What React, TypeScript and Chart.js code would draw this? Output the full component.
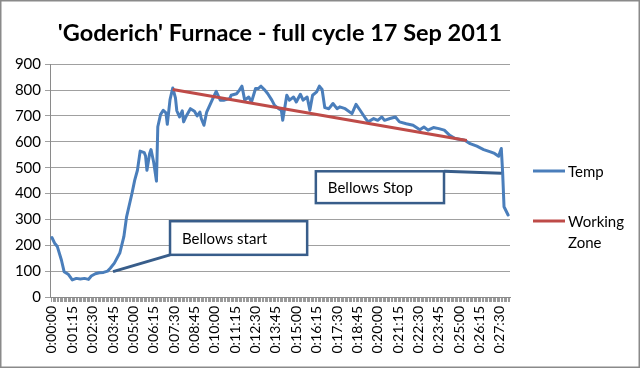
import React, { useEffect, useRef } from 'react';
import { Chart, registerables } from 'chart.js';

Chart.register(...registerables);

// Elapsed time in seconds and furnace temperature
const times = [
  0, 10, 20, 35, 45, 60, 75, 90, 105, 120, 135, 145, 160, 175, 190, 205, 215, 230, 250, 265,
  275, 295, 305, 315, 325, 340, 345, 350, 360, 365, 375, 385, 390, 400, 410, 420, 425, 435, 445, 455,
  460, 470, 480, 485, 495, 510, 525, 535, 545, 550, 560, 570, 590, 605, 620, 635, 655, 660, 680, 690,
  700, 710, 725, 735, 750, 760, 770, 785, 795, 810, 820, 835, 845, 850, 865, 875, 890, 900, 915, 925,
  940, 950, 960, 975, 985, 995, 1005, 1020, 1035, 1050, 1060, 1080, 1105, 1120, 1135, 1155, 1165, 1185, 1200, 1215,
  1225, 1245, 1265, 1280, 1305, 1330, 1355, 1370, 1385, 1405, 1425, 1445, 1465, 1485, 1505, 1520, 1540, 1565, 1590, 1615,
  1630, 1645, 1655, 1660, 1665, 1680,
];
const temps = [
  230, 208, 195, 143, 98, 88, 66, 72, 70, 72, 68, 81, 90, 94, 95, 100, 111, 131, 170, 233,
  310, 401, 452, 490, 564, 558, 545, 490, 555, 570, 520, 448, 658, 705, 722, 712, 668, 763, 808, 770,
  720, 696, 720, 677, 700, 728, 718, 700, 715, 690, 664, 715, 761, 795, 761, 761, 767, 780, 786, 799,
  815, 761, 773, 754, 806, 806, 815, 799, 786, 761, 741, 728, 722, 683, 780, 761, 773, 754, 784, 761,
  773, 722, 780, 793, 815, 802, 732, 728, 748, 728, 735, 728, 709, 745, 722, 690, 677, 690, 683, 696,
  683, 690, 696, 677, 670, 664, 647, 657, 645, 655, 651, 645, 625, 613, 609, 606, 593, 583, 570, 561,
  555, 544, 574, 479, 349, 317,
];

// Working zone trend line (start / end)
const zoneTimes = [445, 1528];
const zoneTemps = [802, 605];

// Axis settings (values, not pixels)
const yTicks = [0, 100, 200, 300, 400, 500, 600, 700, 800, 900];
const labelEvery = 75; // seconds between time labels
const sampleStep = 5; // seconds between minor tick marks
const xMin = -7;
const xMax = 1687;

const legendLabels = ['Temp', 'Working Zone'];
const titleText = "'Goderich' Furnace - full cycle 17 Sep 2011";

// Callouts in data units: box [t0, t1, vTop, vBottom], pointer from -> to
const startCallout = { text: 'Bellows start', box: [435, 940, 293, 163], from: [225, 98], to: [435, 163] };
const stopCallout = { text: 'Bellows Stop', box: [972, 1444, 486, 363], from: [1444, 486], to: [1656, 478] };

const BLUE = '#4a7ebb';
const RED = '#be4b48';
const SHAPE = '#385d8a';
const FONT = 'Lato, "Open Sans", sans-serif';

function fmt(t: number) {
  const h = Math.floor(t / 3600);
  const m = Math.floor((t % 3600) / 60);
  const s = t % 60;
  return `${h}:${String(m).padStart(2, '0')}:${String(s).padStart(2, '0')}`;
}

const extras = {
  id: 'extras',
  afterDatasetsDraw(chart: any) {
    const { ctx, scales } = chart;
    const xs = scales.x;
    const ys = scales.y;
    const px = (t: number) => xs.getPixelForValue(t);
    const py = (v: number) => ys.getPixelForValue(v);
    ctx.save();
    const drawCallout = (c: any) => {
      ctx.strokeStyle = SHAPE;
      ctx.lineWidth = 3;
      ctx.beginPath();
      ctx.moveTo(px(c.from[0]), py(c.from[1]));
      ctx.lineTo(px(c.to[0]), py(c.to[1]));
      ctx.stroke();
      const x0 = px(c.box[0]);
      const x1 = px(c.box[1]);
      const y0 = py(c.box[2]);
      const y1 = py(c.box[3]);
      ctx.fillStyle = '#fff';
      ctx.fillRect(x0, y0, x1 - x0, y1 - y0);
      ctx.lineWidth = 2.5;
      ctx.strokeRect(x0, y0, x1 - x0, y1 - y0);
      ctx.fillStyle = '#000';
      ctx.font = `15px ${FONT}`;
      ctx.textBaseline = 'middle';
      ctx.textAlign = 'left';
      ctx.fillText(c.text, x0 + 12, (y0 + y1) / 2 + 1);
    };
    drawCallout(startCallout);
    drawCallout(stopCallout);
    ctx.restore();
  },
  afterDraw(chart: any) {
    const { ctx, width, height } = chart;
    ctx.save();
    // legend
    const lx = chart.chartArea.right + 23;
    const colors = [BLUE, RED];
    const rows = [[171], [221, 242]];
    ctx.font = `15px ${FONT}`;
    ctx.textBaseline = 'middle';
    ctx.textAlign = 'left';
    legendLabels.forEach((label, i) => {
      ctx.strokeStyle = colors[i];
      ctx.lineWidth = 3;
      ctx.beginPath();
      ctx.moveTo(lx, rows[i][0]);
      ctx.lineTo(lx + 32, rows[i][0]);
      ctx.stroke();
      ctx.fillStyle = '#000';
      const words = rows[i].length > 1 ? label.split(' ') : [label];
      words.forEach((w, j) => ctx.fillText(w, lx + 35, rows[i][j] + 1));
    });
    // outer border
    ctx.strokeStyle = '#8a8a8a';
    ctx.lineWidth = 1.5;
    ctx.strokeRect(0.75, 0.75, width - 1.5, height - 1.5);
    ctx.restore();
  },
};

export default function App() {
  const ref = useRef<HTMLCanvasElement>(null);
  useEffect(() => {
    document.body.style.margin = '0';
    const canvas = ref.current!;
    Chart.defaults.font.family = FONT;
    Chart.defaults.color = '#000';
    const chart = new Chart(canvas, {
      type: 'line',
      data: {
        datasets: [
          {
            label: legendLabels[1],
            data: zoneTimes.map((t, i) => ({ x: t, y: zoneTemps[i] })),
            borderColor: RED,
            borderWidth: 3,
            pointRadius: 0,
          },
          {
            label: legendLabels[0],
            data: times.map((t, i) => ({ x: t, y: temps[i] })),
            borderColor: BLUE,
            borderWidth: 3,
            pointRadius: 0,
            borderJoinStyle: 'round',
            borderCapStyle: 'round',
          },
        ],
      },
      options: {
        responsive: false,
        animation: false,
        layout: { padding: { left: 0, right: 130, top: 0, bottom: 0 } },
        plugins: {
          legend: { display: false },
          tooltip: { enabled: false },
          title: {
            display: true,
            text: titleText,
            fullSize: false,
            color: '#000',
            font: { size: 23.5, weight: 'bold', family: FONT },
            padding: { top: 19, bottom: 17 },
          },
        },
        scales: {
          x: {
            type: 'linear',
            min: xMin,
            max: xMax,
            afterBuildTicks: (scale: any) => {
              const ticks = [];
              for (let t = 0; t <= xMax; t += sampleStep) ticks.push({ value: t });
              scale.ticks = ticks;
            },
            afterFit: (scale: any) => {
              scale.height = 71;
            },
            ticks: {
              autoSkip: false,
              minRotation: 90,
              maxRotation: 90,
              padding: 4,
              font: { size: 14, family: FONT },
              callback: (v: any) => (Number(v) % labelEvery === 0 ? fmt(Number(v)) : ''),
            },
            grid: { drawOnChartArea: false, drawTicks: true, tickLength: 5, color: '#9a9a9a' },
            border: { color: '#8a8a8a', width: 1 },
          },
          y: {
            min: 0,
            max: 900,
            afterBuildTicks: (scale: any) => {
              scale.ticks = yTicks.map((v) => ({ value: v }));
            },
            afterFit: (scale: any) => {
              scale.width = 50;
            },
            ticks: { padding: 4, font: { size: 15, family: FONT } },
            grid: { color: '#a0a0a0', tickLength: 5 },
            border: { color: '#8a8a8a', width: 1 },
          },
        },
      },
      plugins: [extras],
    });
    return () => chart.destroy();
  }, []);
  return (
    <div style={{ width: 640, height: 368 }}>
      <canvas ref={ref} width={640} height={368} />
    </div>
  );
}
